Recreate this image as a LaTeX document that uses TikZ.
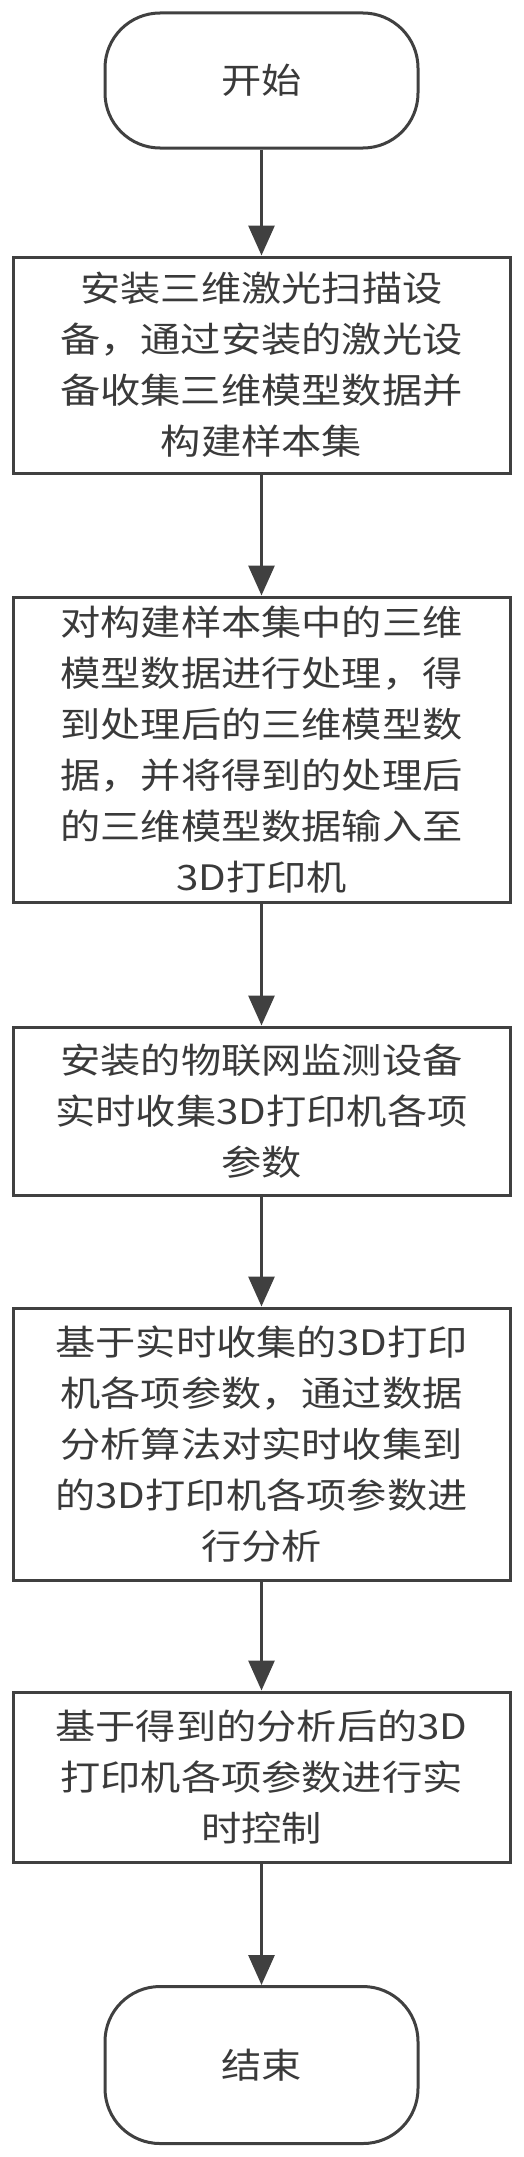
\documentclass[tikz,border=0pt]{standalone}
\usepackage{fontspec}
\newfontfamily\cjk[FakeStretch=1.15]{Noto Sans CJK SC}
\usetikzlibrary{arrows.meta}
\definecolor{ln}{HTML}{404040}
\definecolor{tx}{HTML}{3A3A3A}
\tikzset{
  proc/.style={draw=ln, line width=3pt, minimum width=497pt, inner sep=0pt, align=center, text=tx, font=\cjk\fontsize{35}{51}\selectfont},
  term/.style={proc, rounded corners=55pt, minimum width=313pt},
  flow/.style={draw=ln, line width=3pt, -{Triangle[length=30pt,width=26pt]}}
}
\begin{document}
\begin{tikzpicture}[x=1pt,y=-1pt]
\useasboundingbox (0,0) rectangle (524,2157);
\node[term, minimum height=135pt] (start) at (261.5,80.5) {开始};
\node[proc, minimum height=216pt] (b1) at (261.5,365) {安装三维激光扫描设\\备，通过安装的激光设\\备收集三维模型数据并\\构建样本集};
\node[proc, minimum height=305pt] (b2) at (261.5,749.5) {对构建样本集中的三维\\模型数据进行处理，得\\到处理后的三维模型数\\据，并将得到的处理后\\的三维模型数据输入至\\3D打印机};
\node[proc, minimum height=168pt] (b3) at (261.5,1111) {安装的物联网监测设备\\实时收集3D打印机各项\\参数};
\node[proc, minimum height=272pt] (b4) at (261.5,1444) {基于实时收集的3D打印\\机各项参数，通过数据\\分析算法对实时收集到\\的3D打印机各项参数进\\行分析};
\node[proc, minimum height=170pt] (b5) at (261.5,1777) {基于得到的分析后的3D\\打印机各项参数进行实\\时控制};
\node[term, minimum height=157pt] (end) at (261.5,2065) {结束};
\draw[flow] (start) -- (b1);
\draw[flow] (b1) -- (b2);
\draw[flow] (b2) -- (b3);
\draw[flow] (b3) -- (b4);
\draw[flow] (b4) -- (b5);
\draw[flow] (b5) -- (end);
\end{tikzpicture}
\end{document}
